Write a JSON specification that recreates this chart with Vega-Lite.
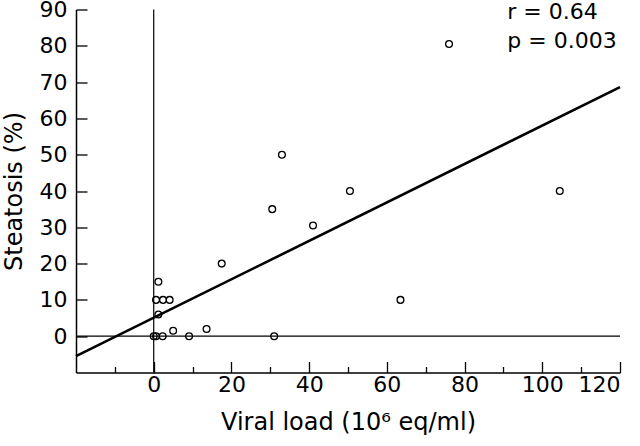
{
  "$schema": "https://vega.github.io/schema/vega-lite/v6.json",
  "width": 544,
  "height": 363,
  "autosize": "none",
  "padding": {"left": 76, "top": 9.5, "right": 20, "bottom": 73.5},
  "background": "white",
  "config": {
    "view": {"stroke": null},
    "font": "DejaVu Sans",
    "axis": {
      "grid": false,
      "domainColor": "black",
      "domainWidth": 1.5,
      "tickColor": "black",
      "tickWidth": 1.3,
      "labelColor": "black",
      "titleColor": "black",
      "labelFont": "DejaVu Sans",
      "titleFont": "DejaVu Sans",
      "labelFontSize": 22,
      "titleFontSize": 24,
      "titleFontWeight": "normal",
      "labelOverlap": false
    }
  },
  "datasets": {
    "pts": [
      {"viral": 1.2, "steatosis": 15},
      {"viral": 0.6, "steatosis": 10},
      {"viral": 2.4, "steatosis": 10},
      {"viral": 4.1, "steatosis": 10},
      {"viral": 1.2, "steatosis": 6},
      {"viral": 5, "steatosis": 1.5},
      {"viral": 13.6, "steatosis": 2},
      {"viral": 0, "steatosis": 0},
      {"viral": 0.6, "steatosis": 0},
      {"viral": 2.3, "steatosis": 0},
      {"viral": 9.1, "steatosis": 0},
      {"viral": 31, "steatosis": 0},
      {"viral": 17.5, "steatosis": 20},
      {"viral": 33, "steatosis": 50},
      {"viral": 30.5, "steatosis": 35},
      {"viral": 41, "steatosis": 30.5},
      {"viral": 50.5, "steatosis": 40},
      {"viral": 104.5, "steatosis": 40},
      {"viral": 63.5, "steatosis": 10},
      {"viral": 76, "steatosis": 80.5}
    ],
    "fit": [
      {"viral": -20, "steatosis": -5.5},
      {"viral": 120, "steatosis": 68.6}
    ],
    "notes": [
      {"viral": 91, "steatosis": 89.3, "label": "r = 0.64"},
      {"viral": 91, "steatosis": 81.3, "label": "p = 0.003"}
    ]
  },
  "layer": [
    {
      "data": {"values": [{"v": 0}]},
      "mark": {"type": "rule", "color": "black", "strokeWidth": 1.2},
      "encoding": {
        "x": {"field": "v", "type": "quantitative", "scale": {"domain": [-20, 120], "nice": false, "zero": false},
          "axis": {
            "title": "Viral load (10\u2076 eq/ml)",
            "values": [-10, 0, 10, 20, 30, 40, 50, 60, 70, 80, 90, 100, 110, 120],
            "labelExpr": "datum.value % 20 === 0 ? datum.label : ''",
            "tickSize": {"condition": {"test": "datum.value % 20 !== 0", "value": -6}, "value": -11},
            "labelPadding": 13,
            "titlePadding": 10
          }
        }
      }
    },
    {
      "data": {"values": [{"v": 0}]},
      "mark": {"type": "rule", "color": "black", "strokeWidth": 1.2},
      "encoding": {
        "y": {"field": "v", "type": "quantitative", "scale": {"domain": [-10, 90], "nice": false, "zero": false},
          "axis": {
            "title": "Steatosis (%)",
            "values": [0, 10, 20, 30, 40, 50, 60, 70, 80, 90],
            "tickSize": -11,
            "labelPadding": 20,
            "titleX": -62,
            "titleBaseline": "middle"
          }
        }
      }
    },
    {
      "data": {"name": "fit"},
      "mark": {"type": "line", "color": "black", "strokeWidth": 2.6},
      "encoding": {
        "x": {"field": "viral", "type": "quantitative"},
        "y": {"field": "steatosis", "type": "quantitative"}
      }
    },
    {
      "data": {"name": "pts"},
      "mark": {"type": "point", "shape": "circle", "filled": false, "color": "black", "size": 46, "strokeWidth": 1.3, "opacity": 1},
      "encoding": {
        "x": {"field": "viral", "type": "quantitative"},
        "y": {"field": "steatosis", "type": "quantitative"}
      }
    },
    {
      "data": {"name": "notes"},
      "mark": {"type": "text", "align": "left", "baseline": "middle", "fontSize": 22, "font": "DejaVu Sans", "color": "black"},
      "encoding": {
        "x": {"field": "viral", "type": "quantitative"},
        "y": {"field": "steatosis", "type": "quantitative"},
        "text": {"field": "label"}
      }
    }
  ]
}
